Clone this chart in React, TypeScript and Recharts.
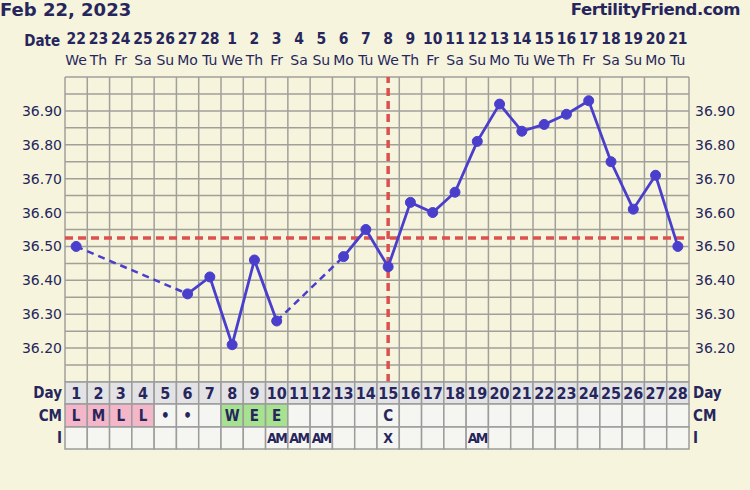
import React from "react";
import {
  ComposedChart,
  Line,
  XAxis,
  YAxis,
  CartesianGrid,
  ReferenceLine,
} from "recharts";

/* ── chart data ── */

const DAYS = [1, 2, 3, 4, 5, 6, 7, 8, 9, 10, 11, 12, 13, 14, 15, 16, 17, 18, 19, 20, 21, 22, 23, 24, 25, 26, 27, 28];
const DATES = [22, 23, 24, 25, 26, 27, 28, 1, 2, 3, 4, 5, 6, 7, 8, 9, 10, 11, 12, 13, 14, 15, 16, 17, 18, 19, 20, 21];
const WEEKDAYS = [
  "We", "Th", "Fr", "Sa", "Su", "Mo", "Tu",
  "We", "Th", "Fr", "Sa", "Su", "Mo", "Tu",
  "We", "Th", "Fr", "Sa", "Su", "Mo", "Tu",
  "We", "Th", "Fr", "Sa", "Su", "Mo", "Tu",
];
const TEMPS: (number | null)[] = [
  36.5, null, null, null, null, 36.36, 36.41, 36.21, 36.46, 36.28,
  null, null, 36.47, 36.55, 36.44, 36.63, 36.6, 36.66, 36.81, 36.92,
  36.84, 36.86, 36.89, 36.93, 36.75, 36.61, 36.71, 36.5,
];
const CM = ["L", "M", "L", "L", "•", "•", "", "W", "E", "E", "", "", "", "", "C", "", "", "", "", "", "", "", "", "", "", "", "", ""];
const INTERCOURSE = ["", "", "", "", "", "", "", "", "", "AM", "AM", "AM", "", "", "X", "", "", "", "AM", "", "", "", "", "", "", "", "", ""];
const TEMP_TICKS = [
  36.1, 36.15, 36.2, 36.25, 36.3, 36.35, 36.4, 36.45, 36.5, 36.55,
  36.6, 36.65, 36.7, 36.75, 36.8, 36.85, 36.9, 36.95, 37.0,
];
const LABELLED_TICKS = [36.2, 36.3, 36.4, 36.5, 36.6, 36.7, 36.8, 36.9];
const COVERLINE = 36.525;
const OVULATION_DAY = 15;
const TITLE_DATE = "Feb 22, 2023";
const SITE = "FertilityFriend.com";

/* ── styles ── */

const BG = "#f6f4dd";
const INK = "#26265c";
const LINE = "#4a3ecc";
const RED = "#dc5050";
const GRID = "#a09f9a";
const SANS = "'DejaVu Sans', Verdana, sans-serif";
const COND = "'DejaVu Sans Condensed', 'DejaVu Sans', sans-serif";
const W = 750;
const H = 490;
const LEFT = 65;
const RIGHT = 61;
const CELL = (W - LEFT - RIGHT) / DAYS.length;
const X_DOMAIN: [number, number] = [0.5, DAYS.length + 0.5];
const EDGES = [0, ...DAYS].map((d) => d + 0.5);

// dashed bridges across days with no temperature
const gaps: [number, number][] = [];
let lastIdx = -1;
TEMPS.forEach((t, i) => {
  if (t == null) return;
  if (lastIdx >= 0 && i - lastIdx > 1) gaps.push([lastIdx, i]);
  lastIdx = i;
});

const data = DAYS.map((day, i) => {
  const row: Record<string, number | null> = { day, temp: TEMPS[i] };
  gaps.forEach(([a, b], g) => {
    row[`gap${g}`] = i === a || i === b ? TEMPS[i] : null;
  });
  return row;
});

const cmFill = (v: string) =>
  v === "L" || v === "M" || v === "H" ? "#f3b7c9" : v === "W" || v === "E" ? "#a6e28f" : "#f5f5f1";

/* ── ticks ── */

function DateTick(props: any) {
  const { x, y, payload, index } = props;
  const i = payload.value - 1;
  return (
    <g>
      {index === 0 && (
        <text x={x - 16} y={y - 31} textAnchor="end" fill={INK} fontFamily={COND} fontWeight="bold" fontSize={15}>
          Date
        </text>
      )}
      <text x={x} y={y - 33} textAnchor="middle" fill={INK} fontFamily={COND} fontWeight="bold" fontSize={15.5}>
        {DATES[i]}
      </text>
      <text x={x} y={y - 12} textAnchor="middle" fill={INK} fontFamily={SANS} fontSize={14}>
        {WEEKDAYS[i]}
      </text>
    </g>
  );
}

function makeRowTick(label: string, height: number, render: (i: number) => { text: string; fill: string; size: number }) {
  return function RowTick(props: any) {
    const { x, y, payload, index } = props;
    const i = payload.value - 1;
    const cell = render(i);
    return (
      <g>
        <rect x={x - CELL / 2} y={y} width={CELL} height={height} fill={cell.fill} stroke="#9c9c9c" strokeWidth={1.5} />
        <text x={x} y={y + height / 2 + cell.size * 0.36} textAnchor="middle" fill={INK} fontFamily={COND} fontWeight="bold" fontSize={cell.size} letterSpacing={cell.text === "AM" ? -1.5 : 0}>
          {cell.text}
        </text>
        {index === 0 && (
          <text x={x - CELL / 2 - 3} y={y + height / 2 + 5} textAnchor="end" fill={INK} fontFamily={COND} fontWeight="bold" fontSize={15}>
            {label}
          </text>
        )}
        {i === DAYS.length - 1 && (
          <text x={x + CELL / 2 + 4} y={y + height / 2 + 5} textAnchor="start" fill={INK} fontFamily={COND} fontWeight="bold" fontSize={15}>
            {label}
          </text>
        )}
      </g>
    );
  };
}

const DayTick = makeRowTick("Day", 22, (i) => ({ text: String(DAYS[i]), fill: "#e3e3e6", size: 16 }));
const CmTick = makeRowTick("CM", 23, (i) => ({ text: CM[i], fill: cmFill(CM[i]), size: 15 }));
const ITick = makeRowTick("I", 22, (i) => ({ text: INTERCOURSE[i], fill: "#f5f5f1", size: 14 }));

function TempTick(props: any) {
  const { x, y, payload, textAnchor } = props;
  const v = Number(payload.value);
  if (!LABELLED_TICKS.some((t) => Math.abs(t - v) < 1e-6)) return null;
  return (
    <text x={x} y={y + 5} textAnchor={textAnchor} fill={INK} fontFamily={SANS} fontSize={14}>
      {v.toFixed(2)}
    </text>
  );
}

const rowAxis = {
  orientation: "bottom" as const,
  dataKey: "day",
  type: "number" as const,
  domain: X_DOMAIN,
  allowDataOverflow: true,
  ticks: DAYS,
  interval: 0,
  axisLine: false,
  tickLine: false,
  tickSize: 0,
  tickMargin: 0,
};

export default function App() {
  return (
    <div style={{ position: "absolute", left: 0, top: 0, width: W, height: H, background: BG, overflow: "hidden" }}>
      <div style={{ position: "absolute", left: 0, top: 0, fontFamily: SANS, fontWeight: "bold", fontSize: 18, lineHeight: "20px", color: INK }}>
        {TITLE_DATE}
      </div>
      <div style={{ position: "absolute", right: 10, top: 0, fontFamily: SANS, fontWeight: "bold", fontSize: 16.5, letterSpacing: -0.4, lineHeight: "20px", color: INK }}>
        {SITE}
      </div>
      <ComposedChart width={W} height={H} data={data} margin={{ top: 0, right: 0, bottom: 41, left: 0 }}>
        <XAxis
          xAxisId="a_date"
          orientation="top"
          dataKey="day"
          type="number"
          domain={X_DOMAIN}
          allowDataOverflow
          ticks={DAYS}
          interval={0}
          height={77}
          axisLine={false}
          tickLine={false}
          tickSize={0}
          tickMargin={0}
          tick={<DateTick />}
        />
        <XAxis xAxisId="b_day" {...rowAxis} height={22} tick={<DayTick />} />
        <XAxis xAxisId="c_cm" {...rowAxis} height={23} tick={<CmTick />} />
        <XAxis xAxisId="d_i" {...rowAxis} height={22} tick={<ITick />} />
        <XAxis xAxisId="y_main" dataKey="day" type="number" domain={X_DOMAIN} allowDataOverflow hide />
        <XAxis xAxisId="z_edges" dataKey="day" type="number" domain={X_DOMAIN} allowDataOverflow ticks={EDGES} interval={0} hide />
        <YAxis yAxisId="left" domain={[36.1, 37.0]} allowDataOverflow ticks={TEMP_TICKS} interval={0} width={LEFT} axisLine={false} tickLine={false} tickSize={0} tickMargin={3} tick={<TempTick />} />
        <YAxis yAxisId="right" orientation="right" domain={[36.1, 37.0]} allowDataOverflow ticks={TEMP_TICKS} interval={0} width={RIGHT} axisLine={false} tickLine={false} tickSize={0} tickMargin={6} tick={<TempTick />} />
        <CartesianGrid xAxisId="z_edges" yAxisId="left" stroke={GRID} strokeWidth={1.5} fill={BG} />
        <ReferenceLine xAxisId="y_main" yAxisId="left" y={COVERLINE} stroke={RED} strokeWidth={3.5} strokeDasharray="8 5" />
        <ReferenceLine xAxisId="y_main" yAxisId="left" x={OVULATION_DAY} stroke={RED} strokeWidth={3.5} strokeDasharray="8 5" />
        {gaps.map((_, g) => (
          <Line
            key={g}
            xAxisId="y_main"
            yAxisId="left"
            dataKey={`gap${g}`}
            stroke={LINE}
            strokeWidth={2.5}
            strokeDasharray="7 5"
            connectNulls
            dot={false}
            isAnimationActive={false}
          />
        ))}
        <Line
          xAxisId="y_main"
          yAxisId="left"
          dataKey="temp"
          stroke={LINE}
          strokeWidth={2.8}
          dot={{ r: 5, fill: LINE, stroke: LINE, strokeWidth: 1 }}
          activeDot={false}
          isAnimationActive={false}
        />
      </ComposedChart>
    </div>
  );
}
